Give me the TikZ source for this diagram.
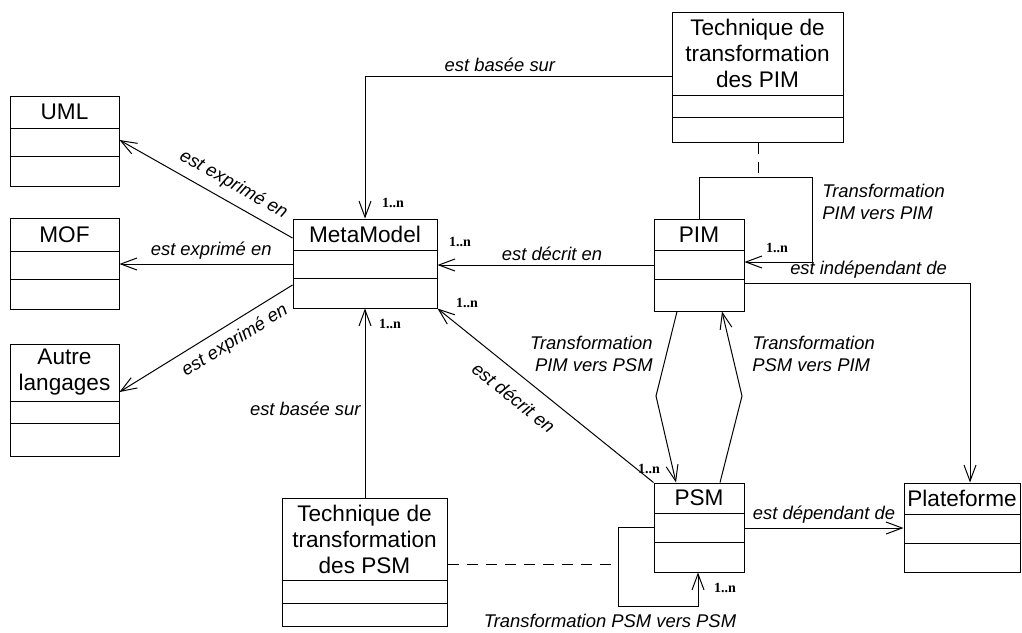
\documentclass[tikz,border=0pt]{standalone}
\usepackage{fontspec}
\setmainfont{Liberation Sans}
\newfontfamily\serifgras{Liberation Serif}
\usepackage{tikz}
\usetikzlibrary{arrows.meta,fit}

% une classe UML : nom, x1, y1, x2, y2, separateur 1, separateur 2, titre
\newcommand{\classe}[8]{%
\node[classe, fit={(#2,#3) (#4,#5)}] (#1) {};
\draw[lien] (#2,#6) -- (#4,#6) (#2,#7) -- (#4,#7);
\node[titre] (#1-titre) at ({(#2+#4)/2},{(#3+#6)/2}) {#8};
}

\tikzset{
  classe/.style={draw, inner sep=0pt, line width=0.5pt},
  titre/.style={align=center, font=\fontsize{11.3}{13}\selectfont},
  lien/.style={line width=0.5pt},
  fleche/.style={lien, -{Straight Barb[length=8pt,width=6pt]}},
  lab/.style={font=\fontsize{9.2}{11}\selectfont\itshape, inner sep=2pt},
  card/.style={font=\serifgras\bfseries\fontsize{7}{8}\selectfont},
  pointille/.style={lien, dash pattern=on 5.5pt off 4pt},
}

\begin{document}
\begin{tikzpicture}[x=0.5pt, y=-0.5pt]
\useasboundingbox (0,0) rectangle (1022,632);

\classe{uml}{10}{96}{119}{186}{128}{156}{UML}
\classe{mof}{10}{218}{119}{309}{251}{279}{MOF}
\classe{autre}{10}{344}{119}{456}{401}{423}{Autre\\langages}
\classe{mm}{293}{219}{437}{308}{250}{278}{MetaModel}
\classe{tpim}{672}{12}{843}{142}{95}{117}{Technique de\\transformation\\des PIM}
\classe{pim}{654}{219}{744}{311}{250}{279}{PIM}
\classe{psm}{654}{483}{744}{572}{513}{542}{PSM}
\classe{tpsm}{282}{498}{447}{626}{580}{603}{Technique de\\transformation\\des PSM}
\classe{plat}{904}{483}{1020}{572}{514}{543}{Plateforme}

% MetaModel vers les langages
\draw[fleche] (mm.west |- 0,238) -- node[lab, sloped, above=2pt, pos=0.39] {est exprimé en} (uml.east |- 0,140);
\draw[fleche] (mm.west |- 0,264) -- node[lab, above, pos=0.47] {est exprimé en} (mof.east |- 0,264);
\draw[fleche] (mm.west |- 0,285) -- node[lab, sloped, below=2pt, pos=0.385] {est exprimé en} (autre.east |- 0,392);

% techniques de transformation
\draw[fleche] (tpim.west |- 0,76) -| node[lab, above, pos=0.28] {est basée sur} (mm.north -| 365,0);
\draw[fleche] (tpsm.north -| 365,0) -- node[lab, left, pos=0.47] {est basée sur} (mm.south -| 365,0);
\coordinate (boucle-pim) at (758,177);
\coordinate (boucle-psm) at (618,564);
\draw[pointille] (tpim.south -| 758,0) -- (boucle-pim);
\draw[pointille] (tpsm.east |- 0,564) -- (boucle-psm);

% PIM et PSM
\draw[fleche] (pim.west |- 0,265) -- node[lab, above, pos=0.47] {est décrit en} (mm.east |- 0,265);
\draw[fleche] (psm.north west) -- node[lab, sloped, below=5pt, pos=0.585] {est décrit en} (mm.south east);
\draw[fleche] (pim.north -| 699,0) |- (812,177) |- (pim.east |- 0,262);
\draw[fleche] (pim.south -| 677,0) -- (656,396) -- (psm.north -| 676,0);
\draw[fleche] (psm.north -| 720,0) -- (742,396) -- (pim.south -| 722,0);
\draw[fleche] (psm.west |- 0,527) -| (618,606) -| (psm.south -| 698,0);
\draw[fleche] (pim.east |- 0,283) -| node[lab, above, pos=0.275] {est indépendant de} (plat.north -| 970,0);
\draw[fleche] (psm.east |- 0,528) -- node[lab, above, pos=0.5] {est dépendant de} (plat.west |- 0,528);

% textes des transformations
\node[lab, anchor=west, align=left] (t-pim-pim) at (818,202) {Transformation\\PIM vers PIM};
\node[lab, anchor=east, align=right] (t-pim-psm) at (657,354) {Transformation\\PIM vers PSM};
\node[lab, anchor=west, align=left] (t-psm-pim) at (748,354) {Transformation\\PSM vers PIM};
\node[lab] (t-psm-psm) at (610,621) {Transformation PSM vers PSM};

% cardinalites
\node[card] (c1) at (393,203) {1..n};
\node[card] (c2) at (460,242) {1..n};
\node[card] (c3) at (467,303) {1..n};
\node[card] (c4) at (390,324) {1..n};
\node[card] (c5) at (777,248) {1..n};
\node[card] (c6) at (649,469) {1..n};
\node[card] (c7) at (725,588) {1..n};
\end{tikzpicture}
\end{document}
